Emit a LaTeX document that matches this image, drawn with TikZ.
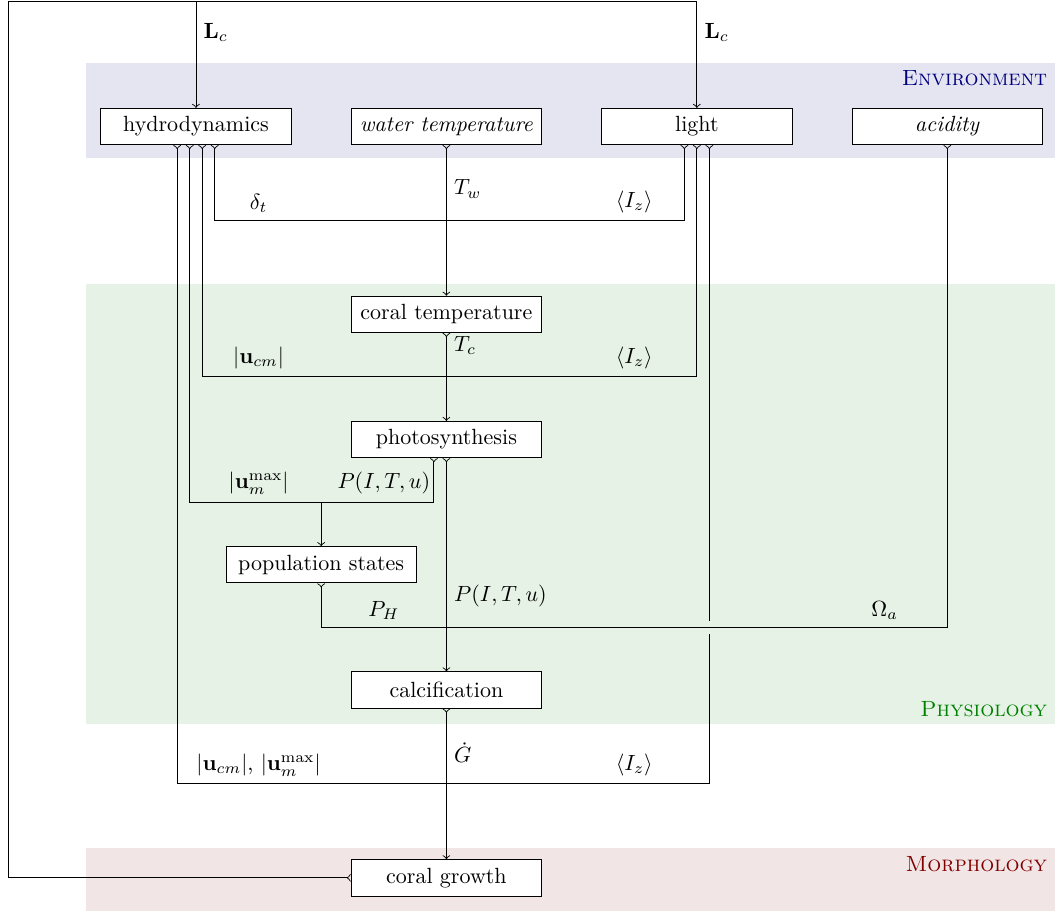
\documentclass[tikz,border=0pt]{standalone}
\usepackage{tikz}
\usetikzlibrary{arrows}
\usetikzlibrary{positioning}
\usetikzlibrary{calc}
\colorlet{envcol}{blue!50!black}
\colorlet{physcol}{green!50!black}
\colorlet{morphcol}{red!50!black}
\tikzstyle{title} = [font=\scshape]

\begin{document}
\begin{tikzpicture}[on grid, node distance=2cm and 4cm,
	box/.style={draw, fill=white, minimum width=3.04cm, minimum height=0.58cm},
	line/.style={draw, >->},
	link/.style={draw, >-<}]
	\useasboundingbox (-3.13,2.02) rectangle (13.72,-12.52);
	%% Bands
	\fill[envcol!10] (-1.76,1.01) rectangle (13.75,-0.51);
	\fill[physcol!10] (-1.76,-2.51) rectangle (13.75,-9.55);
	\fill[morphcol!10] (-1.76,-11.53) rectangle (13.75,-12.6);
	\node[title, text=envcol, anchor=north east] (tEnv) at (13.72,1.01) {Environment};
	\node[title, text=physcol, anchor=south east] (tPhys) at (13.72,-9.55) {Physiology};
	\node[title, text=morphcol, anchor=north east] (tMorph) at (13.72,-11.53) {Morphology};
	%% Boxes
	\node [box] (hydro) {hydrodynamics};
	\node [box, right=of hydro] (water) {\textit{water temperature}};
	\node [box, right=of water] (light) {light};
	\node [box, right=of light] (acidity) {\textit{acidity}};
	\node [box, below=3cm of water] (ctemp) {coral temperature};
	\node [box, below=of ctemp] (photo) {photosynthesis};
	\node [box, below left=2cm and 2cm of photo] (pop) {population states};
	\node [box, below right=2cm and 2cm of pop] (calc) {calcification};
	\node [box, below=3cm of calc] (growth) {coral growth};
	%% Ports and crossings
	\coordinate (hyA) at ([xshift=-3mm]hydro.south);
	\coordinate (hyB) at ([xshift=-1mm]hydro.south);
	\coordinate (hyC) at ([xshift=1mm]hydro.south);
	\coordinate (hyD) at ([xshift=3mm]hydro.south);
	\coordinate (liA) at ([xshift=-2mm]light.south);
	\coordinate (liC) at ([xshift=2mm]light.south);
	\coordinate (phA) at ([xshift=-2mm]photo.south);
	\coordinate (c1) at ($(water)!0.5!(ctemp)$);
	\coordinate (c2) at ($(ctemp)!0.5!(photo)$);
	\coordinate (c3) at ($(photo)!0.5!(pop)$);
	\coordinate (c4) at ($(pop)!0.5!(calc)$);
	\coordinate (c5) at ($(calc)!0.5!(growth)$);
	\coordinate (fbk) at ([shift={(-3,2)}]hydro.center);
	\coordinate (gap) at (liC |- c4);
	%% Feedback
	\path [line] (growth.west) -| (fbk) -| (light.north);
	\path [draw, ->] (hydro |- fbk) -- (hydro.north);
	\node [right, yshift=-5mm] (lLcA) at (hydro |- fbk) {$\mathbf{L}_c$};
	\node [right, yshift=-5mm] (lLcB) at (light |- fbk) {$\mathbf{L}_c$};
	%% Arrows
	\path [line] (water.south) -- (ctemp.north);
	\node [right, yshift=5mm] (lTw) at (c1) {$T_w$};
	\path [link] (hyD) |- (c1) -| (liA);
	\node [above, xshift=1cm] (lDt) at (hydro |- c1) {$\delta_t$};
	\node [above, xshift=-1cm] (lIzA) at (light |- c1) {$\langle I_z\rangle$};
	\path [line] (ctemp.south) -- (photo.north);
	\node [right, yshift=5mm] (lTc) at (c2) {$T_c$};
	\path [link] (hyC) |- (c2) -| (light.south);
	\node [above, xshift=1cm] (lUcm) at (hydro |- c2) {$|\mathbf{u}_{cm}|$};
	\node [above, xshift=-1cm] (lIzB) at (light |- c2) {$\langle I_z\rangle$};
	\path [link] (hyB) |- (c3) -| (phA);
	\path [draw, ->] (pop |- c3) -- (pop.north);
	\node [above, xshift=1cm] (lUmax) at (hydro |- c3) {$|\mathbf{u}_m^{\max}|$};
	\node [above, xshift=-1cm] (lPA) at (photo |- c3) {$P(I,T,u)$};
	\path [link] (liC) |- (c5) -| (hyA);
	\node [above, xshift=1cm] (lUboth) at (hydro |- c5) {$|\mathbf{u}_{cm}|$, $|\mathbf{u}_m^{\max}|$};
	\node [above, xshift=-1cm] (lIzC) at (light |- c5) {$\langle I_z\rangle$};
	\fill [physcol!10] ([xshift=-1pt, yshift=-1mm]gap) rectangle ([xshift=1pt, yshift=1mm]gap);
	\path [link] (pop.south) |- (c4) -| (acidity.south);
	\node [above, xshift=1cm] (lPH) at (pop |- c4) {$P_H$};
	\node [above, xshift=-1cm] (lOm) at (acidity |- c4) {$\Omega_a$};
	\path [line] (photo.south) -- (calc.north);
	\node [right, yshift=5mm] (lPB) at (photo |- c4) {$P(I,T,u)$};
	\path [line] (calc.south) -- (growth.north);
	\node [right, yshift=5mm] (lG) at (c5) {$\dot{G}$};
\end{tikzpicture}
\end{document}
